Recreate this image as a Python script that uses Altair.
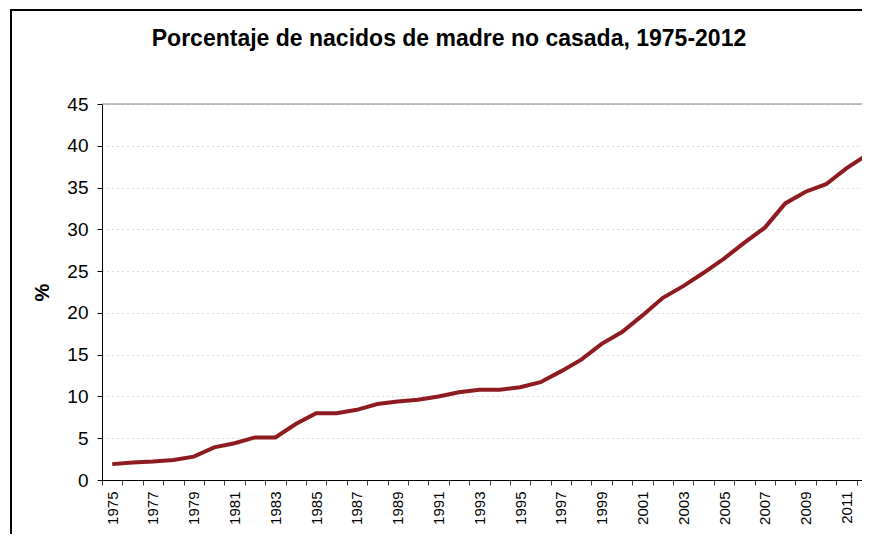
import altair as alt
import pandas as pd

years = [str(y) for y in range(1975, 2013)]
values = [1.9, 2.1, 2.2, 2.4, 2.8, 3.9, 4.4, 5.1, 5.1, 6.7,
          8.0, 8.0, 8.4, 9.1, 9.4, 9.6, 10.0, 10.5, 10.8, 10.8,
          11.1, 11.7, 13.0, 14.4, 16.3, 17.7, 19.7, 21.8, 23.2, 24.8,
          26.5, 28.4, 30.2, 33.1, 34.5, 35.4, 37.3, 38.9]
y_ticks = [0, 5, 10, 15, 20, 25, 30, 35, 40, 45]
top_line = [45]
title_text = "Porcentaje de nacidos de madre no casada, 1975-2012"
y_title = "%"

df = pd.DataFrame({"year": years, "pct": values})
df_top = pd.DataFrame({"pct": top_line})

W, H = 760, 376
XR = 775  # x range extends past the visible area, as in the reference
FONT = "Liberation Sans"

x_enc = alt.X(
    "year:N",
    sort=years,
    scale=alt.Scale(paddingInner=0, paddingOuter=0, range=[0, XR]),
    axis=alt.Axis(
        title=None,
        labelAngle=270,
        labelAlign="right",
        labelBaseline="middle",
        labelFontSize=15,
        labelFont=FONT,
        labelColor="#000000",
        labelPadding=6,
        labelExpr="parseInt(datum.label) % 2 == 1 ? datum.label : ''",
        tickBand="extent",
        tickSize=5,
        tickColor="#404040",
        domainColor="#000000",
        domainWidth=1,
        grid=False,
        labelOverlap=False,
    ),
)

y_enc = alt.Y(
    "pct:Q",
    scale=alt.Scale(domain=[0, 45], nice=False),
    axis=alt.Axis(
        title=y_title,
        values=y_ticks,
        labelFontSize=19,
        labelFont=FONT,
        labelColor="#000000",
        labelPadding=9,
        tickSize=5,
        tickColor="#000000",
        domainColor="#000000",
        domainWidth=1,
        grid=True,
        gridColor="#b8b8b8",
        gridDash=[1, 4],
        gridWidth=1,
        titleFont=FONT,
        titleFontSize=20,
        titleFontWeight="bold",
        titleAngle=270,
        titleAlign="center",
        titleBaseline="middle",
        titleX=-60,
        titleY=H / 2,
    ),
)

frame_left = alt.Chart(df_top).mark_rule(color="#000000", strokeWidth=2, clip=False).encode(
    x=alt.value(-91), y=alt.value(-94), y2=alt.value(H + 120),
)
frame_top = alt.Chart(df_top).mark_rule(color="#000000", strokeWidth=2, clip=False).encode(
    x=alt.value(-92), x2=alt.value(W + 60), y=alt.value(-94),
)

top_rule = alt.Chart(df_top).mark_rule(color="#808080", strokeWidth=1, clip=False).encode(
    y=y_enc,
    x=alt.value(0),
    x2=alt.value(XR),
)

line = alt.Chart(df).mark_line(
    color="#8e1b1f", strokeWidth=4, strokeJoin="miter", clip=False
).encode(x=x_enc, y=y_enc)

title = alt.Chart(df_top).mark_text(
    text=title_text,
    font=FONT,
    fontSize=23,
    fontWeight="bold",
    color="#000000",
    align="center",
    baseline="alphabetic",
).encode(x=alt.value(347), y=alt.value(-58))

chart = alt.layer(frame_left, frame_top, top_rule, line, title).properties(
    width=W,
    height=H,
    autosize=alt.AutoSizeParams(type="none"),
    padding={"left": 94, "top": 96, "right": 0, "bottom": 54},
).configure_view(stroke=None)

chart.save("out.html", embed_options={"renderer": "svg", "actions": False})
